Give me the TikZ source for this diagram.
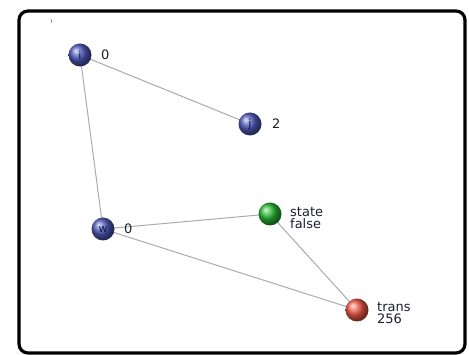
\documentclass[tikz,border=0pt]{standalone}
\usepackage{fontspec}
\setmainfont{DejaVu Sans}
\begin{document}
\begin{tikzpicture}[x=1pt,y=-1pt,
  ball/.style={circle,minimum size=23pt,inner sep=0pt,font=\fontsize{11}{11}\selectfont,text={rgb,255:red,25;green,25;blue,70}},
  blueball/.style={ball,ball color={rgb,255:red,80;green,90;blue,190}},
  greenball/.style={ball,ball color={rgb,255:red,40;green,185;blue,50}},
  redball/.style={ball,ball color={rgb,255:red,240;green,90;blue,70}},
  lbl/.style={anchor=west,inner sep=0pt,font=\fontsize{13}{12}\selectfont,text={rgb,255:red,30;green,30;blue,50},align=left},
  edge/.style={draw={rgb,255:red,170;green,170;blue,170},line width=1pt}]
\useasboundingbox (0,0) rectangle (469,355);
\draw[line width=3.2pt,rounded corners=9pt] (19,11) rectangle (465,353);
\node[inner sep=0pt,font=\fontsize{5}{5}\selectfont] (bang) at (52,22) {!};
\coordinate (ci) at (80,55);
\coordinate (cj) at (250,124);
\coordinate (cw) at (103,229);
\coordinate (cs) at (270,214);
\coordinate (ct) at (357,310);
\draw[edge] (ci) -- (cj);
\draw[edge] (ci) -- (cw);
\draw[edge] (cw) -- (cs);
\draw[edge] (cw) -- (ct);
\draw[edge] (cs) -- (ct);
\node[blueball] (i) at (ci) {i};
\node[blueball] (j) at (cj) {j};
\node[blueball] (w) at (cw) {w};
\node[greenball] (s) at (cs) {};
\node[redball] (t) at (ct) {};
\node[lbl] (li) at (101,55) {0};
\node[lbl] (lj) at (272,124) {2};
\node[lbl] (lw) at (124,229) {0};
\node[lbl] (ls) at (290,218) {state\\false};
\node[lbl] (lt) at (377,313) {trans\\256};
\end{tikzpicture}
\end{document}
